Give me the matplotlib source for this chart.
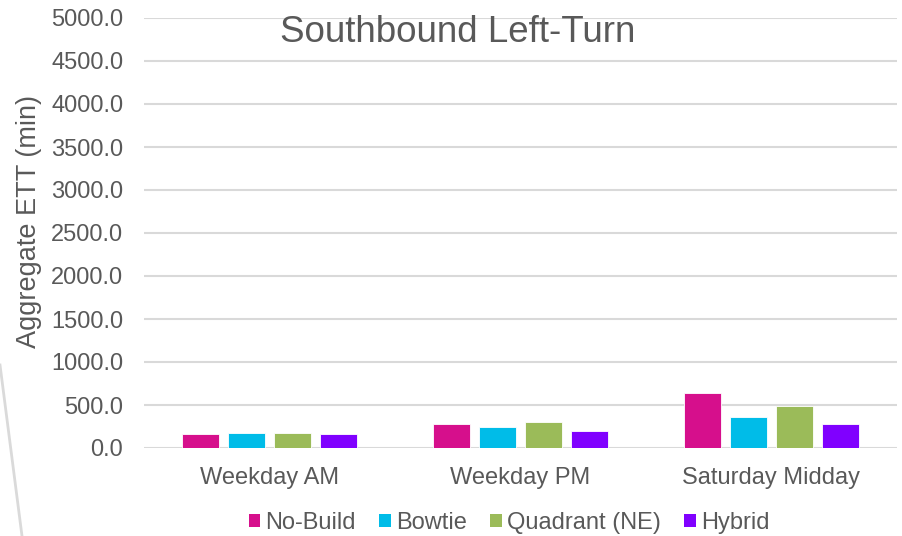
import matplotlib.pyplot as plt
import numpy as np
from matplotlib.lines import Line2D
from matplotlib.patches import Patch

plt.rcParams['font.family'] = ['Liberation Sans', 'DejaVu Sans']

# data
periods = ['Weekday AM', 'Weekday PM', 'Saturday Midday']
scenarios = ['No-Build', 'Bowtie', 'Quadrant (NE)', 'Hybrid']
no_build = [167, 277, 642]
bowtie = [179, 245, 363]
quadrant_ne = [171, 300, 488]
hybrid = [159, 202, 284]
yticks = np.arange(0, 5001, 500)

colors = ['#D60F8C', '#00BCE8', '#9BBB59', '#8000FF']
text_col = '#595959'
grid_col = '#D9D9D9'

fig = plt.figure(figsize=(9.03, 5.36), dpi=100)
ax = fig.add_axes([144 / 903, 1 - 448 / 536, 753 / 903, 430 / 536])

x = np.arange(len(periods))
width = 0.148
step = 0.184
series = [no_build, bowtie, quadrant_ne, hybrid]
for i, (vals, c) in enumerate(zip(series, colors)):
    ax.bar(x + (i - 1.5) * step, vals, width, color=c, edgecolor='white',
           linewidth=0.6, zorder=3)

ax.set_xlim(-0.5, 2.5)
ax.set_ylim(0, 5000)
ax.set_yticks(yticks)
ax.set_yticklabels([f'{v:.1f}' for v in yticks])
ax.set_xticks(x)
ax.set_xticklabels(periods)
ax.tick_params(axis='both', length=0, labelsize=17, colors=text_col)
ax.tick_params(axis='y', pad=15)
ax.tick_params(axis='x', pad=13.5)
ax.grid(axis='y', color=grid_col, linewidth=1.5, zorder=0)
for s in ax.spines.values():
    s.set_visible(False)

ax.set_ylabel('Aggregate ETT (min)', fontsize=19.5, color=text_col)
ax.yaxis.set_label_coords(-0.136, 0.526)

fig.text(457.5 / 903, 1 - 33 / 536, 'Southbound Left-Turn', fontsize=26.5,
         color=text_col, ha='center', va='center')

handles = [Patch(facecolor=c, edgecolor='none') for c in colors]
fig.legend(handles, scenarios, loc='center', bbox_to_anchor=(509 / 903, 1 - 523 / 536),
           ncol=4, frameon=False, fontsize=17, labelcolor=text_col,
           handlelength=0.5, handleheight=0.5, handletextpad=0.2,
           columnspacing=1.0, borderpad=0)

# decorative slide edge line
fig.add_artist(Line2D([0 / 903, 22 / 903], [1 - 365 / 536, 0], color='#DADADA',
                      linewidth=2, transform=fig.transFigure))

fig.savefig('out.png', dpi=100)
